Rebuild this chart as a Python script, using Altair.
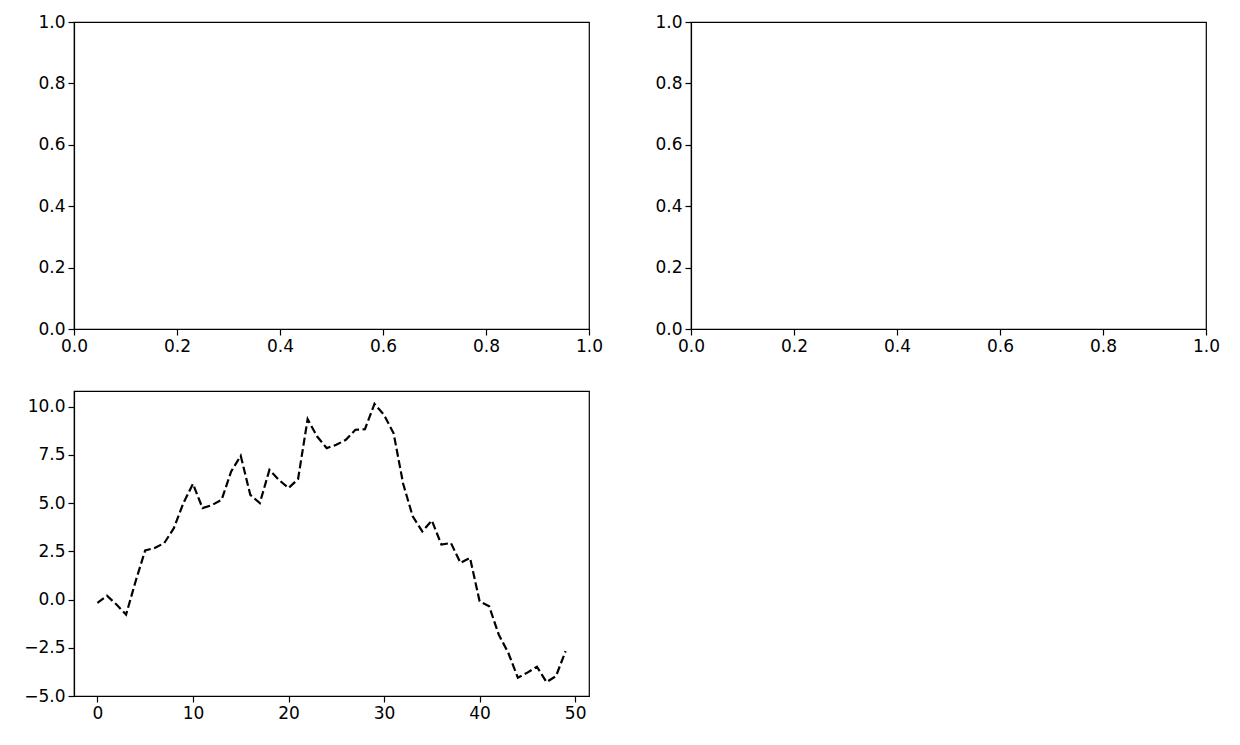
import altair as alt
import pandas as pd

# ---- data ----
step_x = [0, 1, 2, 3, 4, 5, 6, 7, 8, 9,
          10, 11, 12, 13, 14, 15, 16, 17, 18, 19,
          20, 21, 22, 23, 24, 25, 26, 27, 28, 29,
          30, 31, 32, 33, 34, 35, 36, 37, 38, 39,
          40, 41, 42, 43, 44, 45, 46, 47, 48, 49]
walk_y = [-0.17, 0.2, -0.26, -0.78, 0.95, 2.55, 2.67, 2.93, 3.7, 5.0,
          6.0, 4.74, 4.9, 5.17, 6.64, 7.45, 5.43, 5.0, 6.72, 6.2,
          5.78, 6.24, 9.35, 8.45, 7.85, 8.02, 8.28, 8.8, 8.83, 10.14,
          9.57, 8.62, 6.0, 4.31, 3.53, 4.1, 2.85, 2.93, 1.9, 2.16,
          -0.09, -0.35, -1.81, -2.76, -4.05, -3.79, -3.48, -4.28, -3.97, -2.67]
unit_ticks = [0.0, 0.2, 0.4, 0.6, 0.8, 1.0]
bottom_x_ticks = [0, 10, 20, 30, 40, 50]
bottom_y_ticks = [-5.0, -2.5, 0.0, 2.5, 5.0, 7.5, 10.0]

FONT = "DejaVu Sans"
W = 515
H_TOP = 307
H_BOTTOM = 305


def axis_cfg(values, fmt):
    return alt.Axis(values=values, format=fmt, grid=False, title=None,
                    labelFont=FONT, labelFontSize=17, labelColor="black",
                    tickColor="black", tickSize=6, tickWidth=1.2,
                    domainColor="black", domainWidth=1.2, labelPadding=3,
                    labelFlush=False, labelOverlap=False)


def empty_panel():
    df = pd.DataFrame({"x": [0.5], "y": [0.5]})
    return alt.Chart(df).mark_point(opacity=0).encode(
        x=alt.X("x:Q", scale=alt.Scale(domain=[0, 1], nice=False, zero=False),
                axis=axis_cfg(unit_ticks, ".1f")),
        y=alt.Y("y:Q", scale=alt.Scale(domain=[0, 1], nice=False, zero=False),
                axis=axis_cfg(unit_ticks, ".1f")),
    ).properties(width=W, height=H_TOP)


line_df = pd.DataFrame({"x": step_x, "y": walk_y})
line_panel = alt.Chart(line_df).mark_line(
    color="black", strokeWidth=2.2, strokeDash=[8, 3.5]
).encode(
    x=alt.X("x:Q", scale=alt.Scale(domain=[-2.45, 51.45], nice=False, zero=False),
            axis=axis_cfg(bottom_x_ticks, "d")),
    y=alt.Y("y:Q", scale=alt.Scale(domain=[-5.0, 10.81], nice=False, zero=False),
            axis=axis_cfg(bottom_y_ticks, ".1f")),
).properties(width=W, height=H_BOTTOM)

chart = alt.concat(
    empty_panel(), empty_panel(), line_panel,
    columns=2, spacing={"row": 62, "column": 102},
    bounds="flush",
).properties(
    padding={"left": 15, "top": 4, "right": 5, "bottom": 5}
).configure(background="white").configure_view(stroke="black", strokeWidth=1.2)

chart.save("out.html", embed_options={"renderer": "svg", "actions": False})
